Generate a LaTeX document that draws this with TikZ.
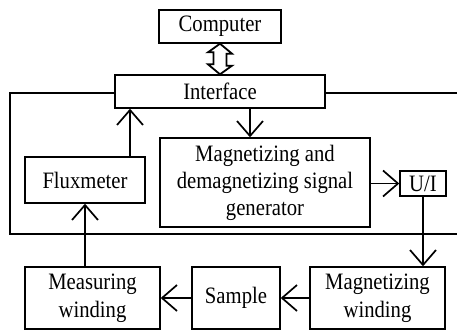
\documentclass[tikz,border=0pt]{standalone}
\usepackage{fontspec}
\setmainfont{Liberation Serif}[FakeStretch=0.88]
\usetikzlibrary{arrows.meta,calc}
\begin{document}
\begin{tikzpicture}[x=1pt,y=-1pt,
  box/.style={draw,line width=1.4pt,inner sep=0pt,align=center,font=\fontsize{23.5}{27}\selectfont},
  conn/.style={line width=1.4pt},
  arr/.style={conn,-{Straight Barb[length=15pt,width=26pt,line width=1.7pt,line join=miter,line cap=butt]}}]
\useasboundingbox (0,0) rectangle (457,332);
\node[box,minimum width=122pt,minimum height=33pt] (cmp) at (220,26.5) {Computer};
\node[box,minimum width=210pt,minimum height=33pt] (ifc) at (220,91.5) {Interface};
\node[box,minimum width=120pt,minimum height=46pt] (flux) at (85,180) {Fluxmeter};
\node[box,minimum width=210pt,minimum height=89pt] (gen) at (265,182.5) {Magnetizing and\\demagnetizing signal\\generator};
\node[box,minimum width=46pt,minimum height=25pt] (ui) at (423,183.5) {U/I};
\node[box,minimum width=135pt,minimum height=62pt,font=\fontsize{23.5}{28}\selectfont] (mw) at (92.5,298) {Measuring\\winding};
\node[box,minimum width=88pt,minimum height=62pt] (smp) at (236,298) {Sample};
\node[box,minimum width=135pt,minimum height=62pt,font=\fontsize{23.5}{28}\selectfont] (mag) at (377.5,298) {Magnetizing\\winding};
% double hollow arrow
\draw[line width=1.8pt,line join=miter] (cmp.south) -- ++(12,10) -- ++(-5.5,0) -- ++(0,12) -- ++(5.5,0)
  -- (ifc.north) -- ++(-12,-10) -- ++(5.5,0) -- ++(0,-12) -- ++(-5.5,0) -- cycle;
% frame
\coordinate (fl) at (10,93);
\coordinate (fbl) at (10,234);
\coordinate (fbr) at (457,234);
\coordinate (ftr) at (457,93);
\draw[conn] (ifc.west |- fl) -- (fl) -- (fbl) -- (fbr);
\draw[conn] (ifc.east |- ftr) -- (ftr);
% arrows
\coordinate (fx) at (130,0);
\coordinate (gx) at (250,0);
\draw[arr] (flux.north -| fx) -- (ifc.south -| fx);
\draw[arr] (ifc.south -| gx) -- (gen.north -| gx);
\draw[arr] (gen.east |- ui.west) -- (ui.west);
\draw[arr] (ui.south) -- (ui.south |- mag.north);
\draw[arr] (mag.west) -- (smp.east);
\draw[arr] (smp.west) -- (mw.east);
\draw[arr] (mw.north -| flux.south) -- (flux.south);
\end{tikzpicture}
\end{document}
